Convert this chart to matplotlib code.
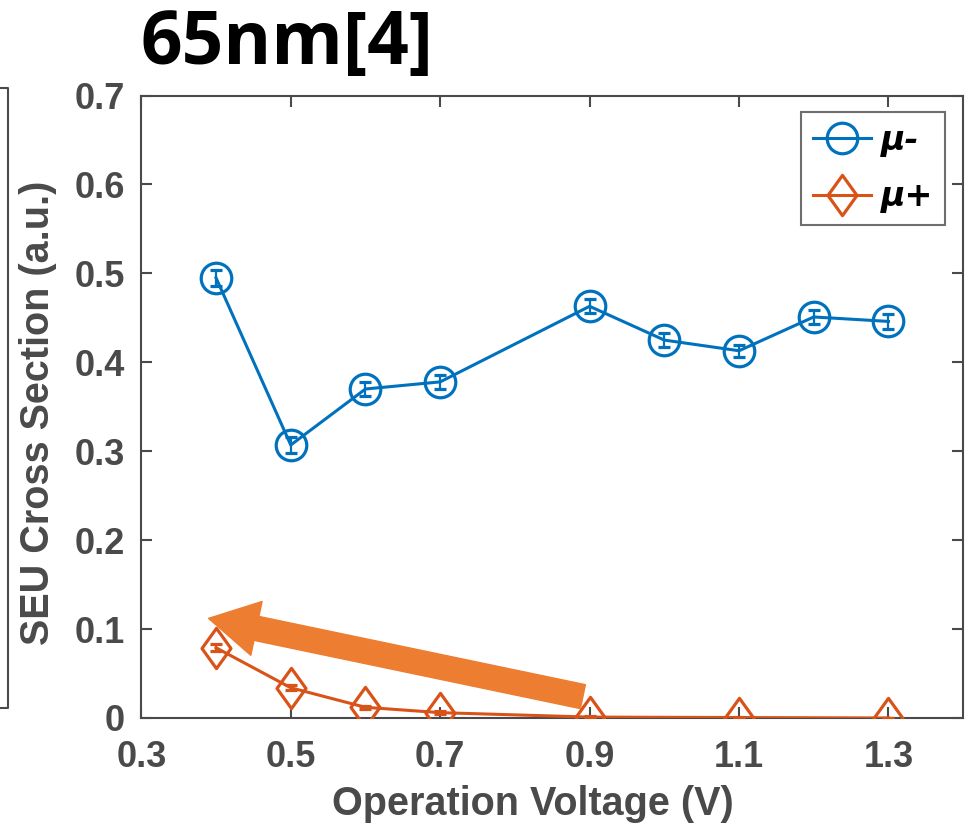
import matplotlib
matplotlib.use("Agg")
import matplotlib.pyplot as plt
from matplotlib.lines import Line2D
from matplotlib.path import Path

voltage_minus = [0.4, 0.5, 0.6, 0.7, 0.9, 1.0, 1.1, 1.2, 1.3]
seu_minus = [0.495, 0.307, 0.370, 0.378, 0.463, 0.425, 0.413, 0.451, 0.446]
err_minus = [0.009, 0.009, 0.008, 0.008, 0.008, 0.008, 0.007, 0.008, 0.008]

voltage_plus = [0.4, 0.5, 0.6, 0.7, 0.9, 1.1, 1.3]
seu_plus = [0.079, 0.034, 0.012, 0.006, 0.001, 0.0005, 0.0]
err_plus = [0.004, 0.003, 0.002, 0.002, 0.001, 0.0005, 0.0]

x_ticks = [0.3, 0.5, 0.7, 0.9, 1.1, 1.3]
x_tick_labels = ["0.3", "0.5", "0.7", "0.9", "1.1", "1.3"]
y_ticks = [0, 0.1, 0.2, 0.3, 0.4, 0.5, 0.6, 0.7]
y_tick_labels = ["0", "0.1", "0.2", "0.3", "0.4", "0.5", "0.6", "0.7"]

title = "65nm[4]"
x_label = "Operation Voltage (V)"
y_label = "SEU Cross Section (a.u.)"
legend_labels = ["\u03bc-", "\u03bc+"]

blue = "#0072BD"
red = "#D95319"
grey = "#4a4a4a"

diamond = Path([(0, 1), (0.72, 0), (0, -1), (-0.72, 0), (0, 1)],
               [Path.MOVETO, Path.LINETO, Path.LINETO, Path.LINETO, Path.CLOSEPOLY])

fig = plt.figure(figsize=(9.68, 8.31), dpi=100)
ax = fig.add_axes([0.146, 0.136, 0.849, 0.749])

ax.errorbar(voltage_minus, seu_minus, yerr=err_minus, color=blue, lw=2.2,
            marker="o", ms=22, mfc="none", mec=blue, mew=2.3,
            capsize=4, elinewidth=1.6, capthick=1.6, zorder=3)
ax.errorbar(voltage_plus, seu_plus, yerr=err_plus, color=red, lw=2.2,
            marker=diamond, ms=29, mfc="none", mec=red, mew=2.3,
            capsize=4, elinewidth=1.6, capthick=1.6, zorder=3)

ax.set_xlim(0.3, 1.4)
ax.set_ylim(0, 0.7)
ax.set_xticks(x_ticks)
ax.set_xticklabels(x_tick_labels)
ax.set_yticks(y_ticks)
ax.set_yticklabels(y_tick_labels)
ax.tick_params(direction="in", length=8, width=1.5, color=grey, top=True, right=True,
               labelsize=26, labelcolor=grey)
ax.tick_params(axis="x", pad=16)
ax.tick_params(axis="y", pad=12)
for lab in ax.get_xticklabels() + ax.get_yticklabels():
    lab.set_fontweight("bold")
    lab.set_family("Liberation Sans")
for sp in ax.spines.values():
    sp.set_color(grey)
    sp.set_linewidth(1.5)

ax.set_xlabel(x_label, fontsize=28.5, fontweight="bold", color=grey, family="Liberation Sans")
ax.xaxis.set_label_coords(0.4766, -0.108)
ax.xaxis.label.set_va("top")
ax.set_ylabel(y_label, fontsize=28.5, fontweight="bold", color=grey, family="Liberation Sans")
ax.yaxis.set_label_coords(-0.126, 0.49)
ax.yaxis.label.set_va("center")

handles = [Line2D([], [], color=blue, lw=2.2, marker="o", ms=22, mfc="none", mec=blue, mew=2.3),
           Line2D([], [], color=red, lw=2.2, marker=diamond, ms=29, mfc="none", mec=red, mew=2.3)]
leg = ax.legend(handles, legend_labels, loc="upper right", bbox_to_anchor=(0.978, 0.973),
                frameon=True, fancybox=False, edgecolor=grey,
                prop={"family": "DejaVu Sans", "weight": "bold", "style": "italic", "size": 24},
                handlelength=1.75, borderpad=0.35, labelspacing=0.7, handletextpad=0.3,
                borderaxespad=0)
leg.get_frame().set_linewidth(1.5)

ax.annotate("", xy=(0.39, 0.112), xytext=(0.891, 0.024),
            arrowprops=dict(arrowstyle="simple,head_length=1.6,head_width=1.8,tail_width=0.8",
                            color="#ED7D31", mutation_scale=22, shrinkA=0, shrinkB=0), zorder=5)

fig.text(0.145, 0.946, title, fontsize=52.5, fontweight="bold", color="black",
         family="Open Sans", ha="left", va="center")

fig.add_artist(Line2D([0.0, 0.008, 0.008, 0.0], [0.894, 0.894, 0.148, 0.148],
                      transform=fig.transFigure, color=grey, lw=1.5))

fig.savefig("out.png", dpi=100)
